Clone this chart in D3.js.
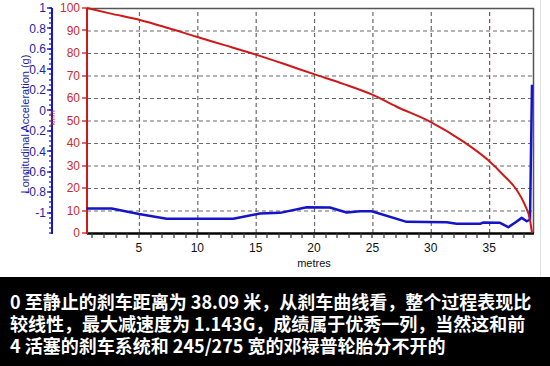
<!DOCTYPE html>
<html>
<head>
<meta charset="utf-8">
<script src="https://cdn.jsdelivr.net/npm/d3@7"></script>
<style>
  html, body { margin: 0; padding: 0; background: #fff; }
  svg { display: block; }
  .grid .domain { display: none; }
  .grid line { stroke: #6a6a6a; stroke-width: 1.2px; stroke-dasharray: 4,3; }
</style>
</head>
<body>
<svg id="chart" width="550" height="366"></svg>
<script>
'use strict';

// speed trace (km/h) against distance (metres)
var speedDist = [0.55, 2.5, 5.08, 7.5, 9.94, 12.4, 14.94, 17.4, 19.93, 22.5, 24.94, 27.08, 29.93, 32.79, 34.9, 36.21, 37.36, 38.07, 38.5, 38.67];
var speedVals = [100, 97.6, 94.7, 91.1, 87.2, 83.4, 79.4, 75.2, 70.7, 66.3, 61.6, 56.1, 49.5, 40.6, 32.4, 25.8, 19.1, 12.4, 5.8, 0];

// longitudinal acceleration (g) against distance (metres)
var accelDist = [0.51, 2.66, 5.0, 7.37, 13.08, 15.36, 17.08, 19.37, 21.36, 22.79, 23.93, 24.94, 27.93, 31.36, 32.22, 34.22, 34.47, 35.93, 36.64, 37.21, 37.79, 38.22, 38.5, 38.67];
var accelVals = [-0.961, -0.961, -1.015, -1.061, -1.061, -1.01, -1.003, -0.948, -0.951, -1.0, -0.987, -0.987, -1.091, -1.095, -1.11, -1.11, -1.098, -1.1, -1.143, -1.1, -1.052, -1.085, -1.068, 0.25];

var xTicks = [5, 10, 15, 20, 25, 30, 35];
var speedTicks = [0, 10, 20, 30, 40, 50, 60, 70, 80, 90, 100];
var accelTicks = [1, 0.8, 0.6, 0.4, 0.2, 0, -0.2, -0.4, -0.6, -0.8, -1];

var captionLines = [
    '0 至静止的刹车距离为 38.09 米，从刹车曲线看，整个过程表现比',
    '较线性，最大减速度为 1.143G，成绩属于优秀一列，当然这和前',
    '4 活塞的刹车系统和 245/275 宽的邓禄普轮胎分不开的'
];

var svg = d3.select('#chart'),
    plotLeft = 87,
    plotRight = 533,
    plotTop = 8,
    plotBottom = 233;

var red = '#d01818',
    blue = '#1414c8',
    redText = '#cc2b2b',
    blueText = '#1e1ea6';

var x = d3.scaleLinear().domain([0.55, 38.67]).range([plotLeft, plotRight - 1]);
var ySpeed = d3.scaleLinear().domain([0, 100]).range([plotBottom, plotTop]);
var yAccel = d3.scaleLinear().domain([-1.2, 1]).range([plotBottom, plotTop]);

// grid, built from the axes with long inward ticks
svg.append('g')
    .attr('class', 'grid')
    .attr('transform', 'translate(0,' + plotBottom + ')')
    .call(d3.axisBottom(x)
        .tickValues(xTicks)
        .tickSize(-(plotBottom - plotTop))
        .tickFormat(''))
    .selectAll('line')
    .filter(function(d) { return d === 35; })
    .style('stroke', '#8a4a4a');

svg.append('g')
    .attr('class', 'grid')
    .attr('transform', 'translate(' + plotLeft + ',0)')
    .call(d3.axisLeft(ySpeed)
        .tickValues(speedTicks.filter(function(d) { return d > 0 && d < 100; }))
        .tickSize(-(plotRight - plotLeft))
        .tickFormat(''));

// frame: top and right
svg.append('path')
    .attr('d', 'M' + plotLeft + ',' + (plotTop + 0.5) + 'H' + (plotRight + 0.5) + 'V' + plotBottom)
    .attr('fill', 'none')
    .attr('stroke', '#555')
    .attr('stroke-width', 1.5);

// light separator at the far right
svg.append('line')
    .attr('x1', 540.5).attr('x2', 540.5)
    .attr('y1', 0).attr('y2', 277)
    .attr('stroke', '#e2e2e2');

// x axis
var xAxis = svg.append('g');
xAxis.append('line')
    .attr('x1', plotLeft).attr('x2', plotRight + 1)
    .attr('y1', plotBottom + 0.5).attr('y2', plotBottom + 0.5)
    .attr('stroke', '#000')
    .attr('stroke-width', 2.5);

xAxis.selectAll('line.minor')
    .data(d3.range(1, 39))
  .enter().append('line')
    .attr('class', 'minor')
    .attr('x1', function(d) { return Math.round(x(d)); })
    .attr('x2', function(d) { return Math.round(x(d)); })
    .attr('y1', plotBottom).attr('y2', plotBottom + 5)
    .attr('stroke', '#333')
    .attr('stroke-width', 1.2);

xAxis.selectAll('text')
    .data(xTicks)
  .enter().append('text')
    .attr('x', function(d) { return x(d); })
    .attr('y', plotBottom + 19)
    .attr('text-anchor', 'middle')
    .attr('font-family', 'Liberation Sans, Arial, sans-serif')
    .attr('font-size', 12)
    .attr('fill', '#111')
    .text(function(d) { return d; });

svg.append('text')
    .attr('x', 314).attr('y', 267)
    .attr('text-anchor', 'middle')
    .attr('font-family', 'Liberation Sans, Arial, sans-serif')
    .attr('font-size', 11)
    .attr('fill', '#111')
    .text('metres');

// red speed axis
var sAxis = svg.append('g');
sAxis.append('line')
    .attr('x1', plotLeft).attr('x2', plotLeft)
    .attr('y1', plotTop).attr('y2', plotBottom + 1)
    .attr('stroke', red)
    .attr('stroke-width', 2);

sAxis.selectAll('line.tick')
    .data(speedTicks)
  .enter().append('line')
    .attr('class', 'tick')
    .attr('x1', plotLeft - 5).attr('x2', plotLeft)
    .attr('y1', function(d) { return Math.round(ySpeed(d)); })
    .attr('y2', function(d) { return Math.round(ySpeed(d)); })
    .attr('stroke', red)
    .attr('stroke-width', 1.3);

sAxis.selectAll('text')
    .data(speedTicks)
  .enter().append('text')
    .attr('x', plotLeft - 7)
    .attr('y', function(d) { return ySpeed(d); })
    .attr('dy', '0.36em')
    .attr('text-anchor', 'end')
    .attr('font-family', 'Liberation Sans, Arial, sans-serif')
    .attr('font-size', 12)
    .attr('fill', redText)
    .text(function(d) { return d; });

// blue acceleration axis
var aLeft = 52;
var aAxis = svg.append('g');
aAxis.append('line')
    .attr('x1', aLeft).attr('x2', aLeft)
    .attr('y1', plotTop).attr('y2', plotBottom + 1)
    .attr('stroke', blue)
    .attr('stroke-width', 2);

aAxis.selectAll('line.minor')
    .data(d3.range(-24, 21).map(function(i) { return i * 0.05; }))
  .enter().append('line')
    .attr('class', 'minor')
    .attr('x1', aLeft - 3).attr('x2', aLeft)
    .attr('y1', function(d) { return Math.round(yAccel(d)); })
    .attr('y2', function(d) { return Math.round(yAccel(d)); })
    .attr('stroke', blue)
    .attr('stroke-width', 1.2);

aAxis.selectAll('line.major')
    .data(accelTicks)
  .enter().append('line')
    .attr('class', 'major')
    .attr('x1', aLeft - 5).attr('x2', aLeft)
    .attr('y1', function(d) { return Math.round(yAccel(d)); })
    .attr('y2', function(d) { return Math.round(yAccel(d)); })
    .attr('stroke', blue)
    .attr('stroke-width', 1.3);

aAxis.selectAll('text')
    .data(accelTicks)
  .enter().append('text')
    .attr('x', aLeft - 6)
    .attr('y', function(d) { return yAccel(d); })
    .attr('dy', '0.36em')
    .attr('text-anchor', 'end')
    .attr('font-family', 'Liberation Sans, Arial, sans-serif')
    .attr('font-size', 12)
    .attr('fill', blueText)
    .text(function(d) { return d; });

svg.append('text')
    .attr('transform', 'translate(29,124) rotate(-90)')
    .attr('text-anchor', 'middle')
    .attr('font-family', 'Liberation Sans, Arial, sans-serif')
    .attr('font-size', 11)
    .attr('fill', blueText)
    .text('Longitudinal Acceleration (g)');

svg.append('text')
    .attr('transform', 'translate(55,118) rotate(-90)')
    .attr('text-anchor', 'middle')
    .attr('font-family', 'Liberation Sans, Arial, sans-serif')
    .attr('font-size', 7)
    .attr('fill', redText)
    .text('km/h');

// series
var speedLine = d3.line()
    .x(function(d) { return x(d[0]); })
    .y(function(d) { return ySpeed(d[1]); })
    .curve(d3.curveMonotoneX);

var accelLine = d3.line()
    .x(function(d) { return x(d[0]); })
    .y(function(d) { return yAccel(d[1]); });

svg.append('path')
    .datum(d3.zip(accelDist, accelVals))
    .attr('d', accelLine)
    .attr('fill', 'none')
    .attr('stroke', blue)
    .attr('stroke-width', 2.5)
    .attr('stroke-linejoin', 'round');

svg.append('path')
    .datum(d3.zip(speedDist, speedVals))
    .attr('d', speedLine)
    .attr('fill', 'none')
    .attr('stroke', red)
    .attr('stroke-width', 2);

// caption
svg.append('rect')
    .attr('x', 0).attr('y', 277)
    .attr('width', 550).attr('height', 89)
    .attr('fill', '#000');

var captionWidths = [522, 520, 445];

svg.selectAll('text.caption')
    .data(captionLines)
  .enter().append('text')
    .attr('class', 'caption')
    .attr('x', 10)
    .attr('y', function(d, i) { return 309 + i * 22; })
    .attr('font-family', 'Noto Sans CJK SC, sans-serif')
    .attr('font-weight', 'bold')
    .attr('font-size', 18)
    .attr('fill', '#fff')
    .text(function(d) { return d; })
    .each(function(d, i) {
        // squeeze each line to the width it has in the picture
        if(this.getComputedTextLength() > captionWidths[i]) {
            d3.select(this)
                .attr('textLength', captionWidths[i])
                .attr('lengthAdjust', 'spacingAndGlyphs');
        }
    });
</script>
</body>
</html>
